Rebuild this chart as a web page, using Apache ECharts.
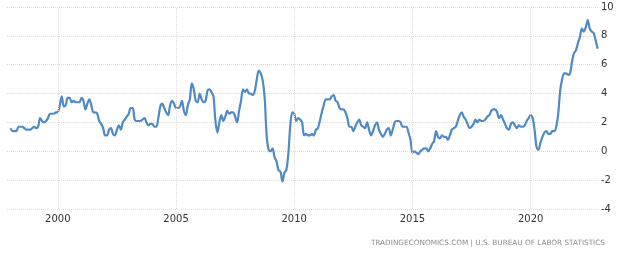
<!DOCTYPE html>
<html><head><meta charset="utf-8">
<script src="https://cdn.jsdelivr.net/npm/echarts@6/dist/echarts.min.js"></script>
<style>html,body{margin:0;padding:0;background:#fff}#c{width:620px;height:259px}</style>
</head><body><div id="c"></div>
<script>
var startYear = 1998;
var yTicks = [-4, -2, 0, 2, 4, 6, 8, 10];
var xTickYears = [2000, 2005, 2010, 2015, 2020];
var sourceText = 'TRADINGECONOMICS.COM | U.S. BUREAU OF LABOR STATISTICS';
// US CPI YoY %, monthly from Jan 1998
var inflation = [
 1.6,1.4,1.4,1.4,1.7,1.7,1.7,1.6,1.5,1.5,1.5,1.6,
 1.7,1.6,1.7,2.3,2.1,2.0,2.1,2.3,2.6,2.6,2.6,2.7,
 2.7,3.2,3.8,3.1,3.2,3.7,3.7,3.4,3.5,3.4,3.4,3.4,
 3.7,3.5,2.9,3.3,3.6,3.2,2.7,2.7,2.6,2.1,1.9,1.6,
 1.1,1.1,1.5,1.6,1.2,1.1,1.5,1.8,1.5,2.0,2.2,2.4,
 2.6,3.0,3.0,2.2,2.1,2.1,2.1,2.2,2.3,2.0,1.8,1.9,
 1.9,1.7,1.7,2.3,3.1,3.3,3.0,2.7,2.5,3.2,3.5,3.3,
 3.0,3.0,3.1,3.5,2.8,2.5,3.2,3.6,4.7,4.3,3.5,3.4,
 4.0,3.6,3.4,3.5,4.2,4.3,4.1,3.8,2.1,1.3,2.0,2.5,
 2.1,2.4,2.8,2.6,2.7,2.7,2.4,2.0,2.8,3.5,4.3,4.1,
 4.3,4.0,4.0,3.9,4.2,5.0,5.6,5.4,4.9,3.7,1.1,0.1,
 0.0,0.2,-0.4,-0.7,-1.3,-1.4,-2.1,-1.5,-1.3,-0.2,1.8,2.7,
 2.6,2.1,2.3,2.2,2.0,1.1,1.2,1.1,1.1,1.2,1.1,1.5,
 1.6,2.1,2.7,3.2,3.6,3.6,3.6,3.8,3.9,3.5,3.4,3.0,
 2.9,2.9,2.7,2.3,1.7,1.7,1.4,1.7,2.0,2.2,1.8,1.7,
 1.6,2.0,1.5,1.1,1.4,1.8,2.0,1.5,1.2,1.0,1.2,1.5,
 1.6,1.1,1.5,2.0,2.1,2.1,2.0,1.7,1.7,1.7,1.3,0.8,
 -0.1,0.0,-0.1,-0.2,0.0,0.1,0.2,0.2,0.0,0.2,0.5,0.7,
 1.4,1.0,0.9,1.1,1.0,1.0,0.8,1.1,1.5,1.6,1.7,2.1,
 2.5,2.7,2.4,2.2,1.9,1.6,1.7,1.9,2.2,2.0,2.2,2.1,
 2.1,2.2,2.4,2.5,2.8,2.9,2.9,2.7,2.3,2.5,2.2,1.9,
 1.6,1.5,1.9,2.0,1.8,1.6,1.8,1.7,1.7,1.8,2.1,2.3,
 2.5,2.3,1.5,0.3,0.1,0.6,1.0,1.3,1.4,1.2,1.2,1.4,
 1.4,1.7,2.6,4.2,5.0,5.4,5.4,5.3,5.4,6.2,6.8,7.0,
 7.5,7.9,8.5,8.3,8.6,9.1,8.5,8.3,8.2,7.7,7.1
];
var points = inflation.map(function(v, i){ return [startYear + i/12, v]; });
var chart = echarts.init(document.getElementById('c'), null, {renderer:'canvas'});
var gridColor = '#dcdcdc';
chart.setOption({
  animation: false,
  graphic: [{
    type: 'text', right: 15, top: 240,
    style: {text: sourceText, fontFamily: 'DejaVu Sans', fontSize: 7.3, fill: '#8c8c8c'}
  }],
  grid: {left: 7, right: 22, top: 7, bottom: 50},
  xAxis: {
    type: 'value', min: 1997.85, max: 2022.85,
    axisLine: {show: false}, axisTick: {show: false},
    splitLine: {show: false},
    axisLabel: {
      customValues: xTickYears, hideOverlap: false,
      fontFamily: 'DejaVu Sans', fontSize: 10, color: '#333', margin: 5,
      formatter: function(v){ return String(Math.round(v)); }
    }
  },
  yAxis: {
    type: 'value', position: 'right', min: yTicks[0], max: yTicks[yTicks.length-1], interval: 2,
    axisLine: {show: false}, axisTick: {show: false},
    axisLabel: {fontFamily: 'DejaVu Sans', fontSize: 10, color: '#333', margin: 3},
    splitLine: {lineStyle: {color: gridColor, type: 'dotted', width: 1}}
  },
  series: [{
    type: 'line', data: points, showSymbol: false, smooth: 0.3,
    lineStyle: {color: '#4f8ac4', width: 2.2},
    markLine: {
      silent: true, symbol: 'none', label: {show: false},
      lineStyle: {color: gridColor, type: 'dotted', width: 1},
      data: xTickYears.map(function(y){ return {xAxis: y}; })
    },
    z: 3
  }]
});
</script></body></html>
